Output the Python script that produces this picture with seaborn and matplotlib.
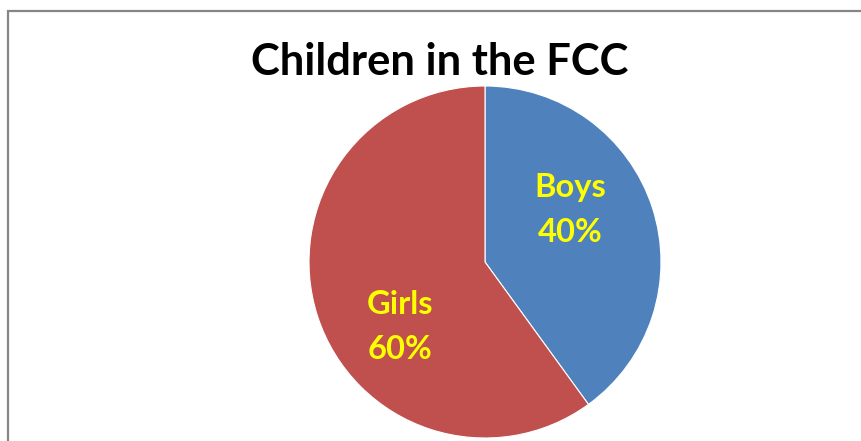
import matplotlib
matplotlib.use("Agg")
import matplotlib.pyplot as plt
import seaborn as sns
from matplotlib.patches import Rectangle

sns.set_theme(style="white")
plt.rcParams['font.family'] = ['Lato', 'DejaVu Sans']

categories = ["Boys", "Girls"]
values = [40, 60]
colors = ["#4F81BD", "#C0504D"]
title = "Children in the FCC"

W, H = 861, 441
fig = plt.figure(figsize=(W / 100, H / 100), dpi=100)
fig.patch.set_facecolor("white")

# border (chart area frame)
fig.add_artist(Rectangle((7.5 / W, -0.1), 1.2, (H - 10.5) / H + 0.1,
                         transform=fig.transFigure, fill=False,
                         edgecolor="#868686", linewidth=1.6))

cx, cy, r = 485, 262, 176
ax = fig.add_axes([(cx - r) / W, (H - cy - r) / H, 2 * r / W, 2 * r / H])
ax.pie(values, colors=colors, startangle=90, counterclock=False,
       wedgeprops=dict(edgecolor="white", linewidth=0.8))
ax.set_xlim(-1, 1)
ax.set_ylim(-1, 1)
ax.set_aspect("equal")
ax.axis("off")

label_pos = [(0.483, 0.295), (-0.483, -0.37)]
for cat, val, (x, y) in zip(categories, values, label_pos):
    ax.text(x, y, f"{cat}\n{val}%", ha="center", va="center",
            color="#FFFF00", fontsize=23.5, fontweight="bold", linespacing=1.68)

fig.text(440 / W, 1 - 62 / H, title, ha="center", va="center",
         fontsize=31.3, fontweight="bold", color="black")

fig.savefig("out.png", dpi=100, facecolor="white")
